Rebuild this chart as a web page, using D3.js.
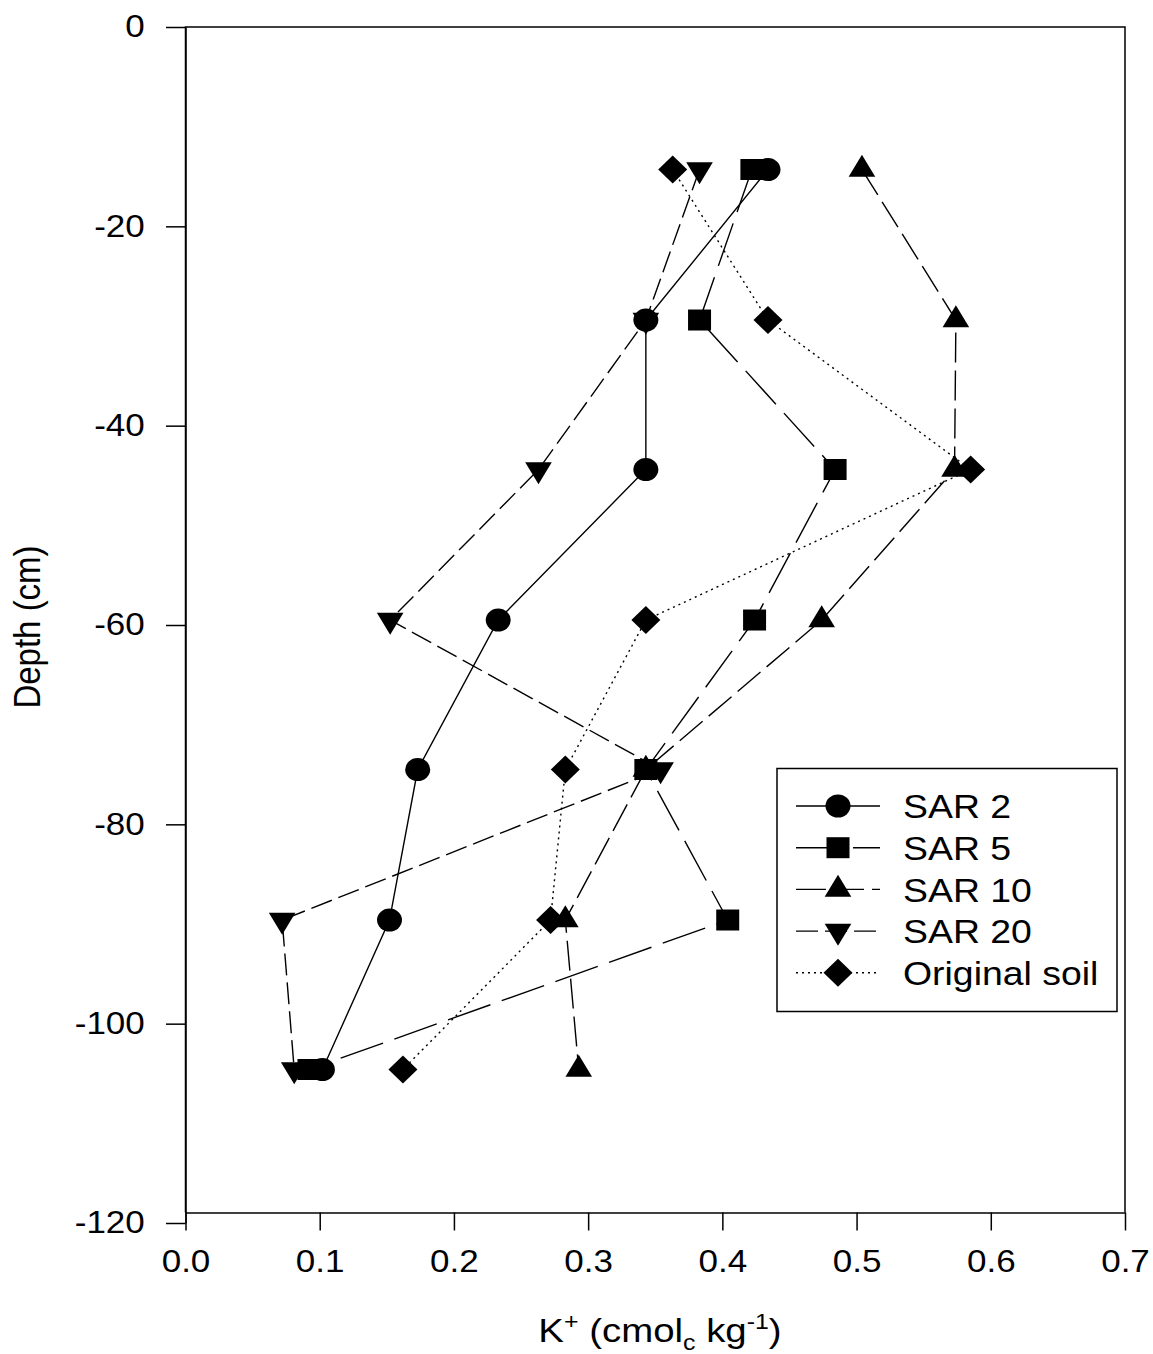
<!DOCTYPE html>
<html>
<head>
<meta charset="utf-8">
<script src="https://cdn.jsdelivr.net/npm/d3@7"></script>
<style>
  html, body { margin: 0; padding: 0; background: #fff; }
  svg { display: block; }
  text { font-family: "Liberation Sans", Arial, sans-serif; fill: #000; }
</style>
</head>
<body>
<svg id="chart" width="1153" height="1354"></svg>
<script>
// Soil depth (cm) of each sampled layer
const depths = [-14.3, -29.4, -44.4, -59.5, -74.5, -89.6, -104.6];

// Exchangeable K+ (cmolc/kg) per layer for each treatment
const sar2     = [0.434, 0.343, 0.343, 0.233, 0.173, 0.152, 0.102];
const sar5     = [0.422, 0.383, 0.484, 0.424, 0.343, 0.404, 0.092];
const sar10    = [0.504, 0.574, 0.573, 0.474, 0.343, 0.283, 0.293];
const sar20    = [0.383, 0.343, 0.263, 0.1525, 0.354, 0.072, 0.081];
const original = [0.363, 0.434, 0.585, 0.343, 0.283, 0.272, 0.162];

const seriesNames = ["SAR 2", "SAR 5", "SAR 10", "SAR 20", "Original soil"];

// Axis tick values
const xTicks = [0.0, 0.1, 0.2, 0.3, 0.4, 0.5, 0.6, 0.7];
const yTicks = [0, -20, -40, -60, -80, -100, -120];

(function () {
  const TEXT_STRETCH = 1.13;
  const LEGEND_STRETCH = 1.1;
  const svg = d3.select("#chart");

  const plotLeft = 185.5, plotRight = 1125, plotTop = 27, xAxisY = 1212.5, yBottom = 1223;
  const x = d3.scaleLinear().domain([0, 0.7]).range([plotLeft, plotRight]);
  const y = d3.scaleLinear().domain([-120, 0]).range([yBottom, plotTop]);

  // Marker shapes (centred on the data point)
  const squareSym = { draw(p) { p.moveTo(-11.5, -10.5); p.lineTo(11.5, -10.5); p.lineTo(11.5, 10.5); p.lineTo(-11.5, 10.5); p.closePath(); } };
  const triUpSym = { draw(p) { p.moveTo(0, -14.7); p.lineTo(13.3, 7.3); p.lineTo(-13.3, 7.3); p.closePath(); } };
  const triDownSym = { draw(p) { p.moveTo(0, 14.7); p.lineTo(13.3, -7.3); p.lineTo(-13.3, -7.3); p.closePath(); } };
  const diamondSym = { draw(p) { p.moveTo(0, -14); p.lineTo(14.5, 0); p.lineTo(0, 14); p.lineTo(-14.5, 0); p.closePath(); } };

  const series = [
    { name: seriesNames[0], values: sar2,     dash: null,    shape: "circle" },
    { name: seriesNames[1], values: sar5,     dash: "45,12", shape: squareSym },
    { name: seriesNames[2], values: sar10,    dash: "30,8",  shape: triUpSym },
    { name: seriesNames[3], values: sar20,    dash: "22,7",  shape: triDownSym },
    { name: seriesNames[4], values: original, dash: "2,4",   shape: diamondSym }
  ];

  function drawMarker(g, cx, cy, shape) {
    if (shape === "circle") {
      g.append("ellipse").attr("cx", cx).attr("cy", cy).attr("rx", 12.5).attr("ry", 11.5).attr("fill", "#000");
    } else {
      g.append("path").attr("d", d3.symbol().type(shape)()).attr("transform", `translate(${cx},${cy})`).attr("fill", "#000");
    }
  }

  // Frame
  svg.append("path")
    .attr("d", `M${plotLeft},${xAxisY}V${plotTop}H${plotRight}V${xAxisY}`)
    .attr("fill", "none").attr("stroke", "#000").attr("stroke-width", 1.5);

  // X axis
  const xAxis = svg.append("g")
    .attr("transform", `translate(0,${xAxisY})`)
    .call(d3.axisBottom(x).tickValues(xTicks).tickFormat(d3.format(".1f")).tickSize(18).tickSizeOuter(0).tickPadding(19));
  xAxis.select(".domain").attr("stroke-width", 1.5);
  xAxis.selectAll(".tick line").attr("stroke-width", 1.5);
  xAxis.selectAll(".tick text")
    .attr("font-size", 31).attr("font-family", "Liberation Sans, Arial, sans-serif")
    .attr("transform", `scale(${TEXT_STRETCH},1)`);

  // Y axis (plain hyphen for negative labels)
  const yAxis = svg.append("g")
    .attr("transform", `translate(${plotLeft},0)`)
    .call(d3.axisLeft(y).tickValues(yTicks).tickFormat(d => String(d)).tickSize(19.5).tickSizeOuter(0).tickPadding(16.5));
  yAxis.select(".domain").attr("stroke-width", 1.5);
  yAxis.selectAll(".tick line").attr("stroke-width", 1.5);
  yAxis.selectAll(".tick text")
    .attr("font-size", 31).attr("font-family", "Liberation Sans, Arial, sans-serif")
    .attr("transform", `scale(${TEXT_STRETCH},1)`);

  // Series lines and markers
  const line = d3.line().x(d => x(d[0])).y(d => y(d[1]));
  const plot = svg.append("g");
  series.forEach(s => {
    const pts = s.values.map((v, i) => [v, depths[i]]);
    plot.append("path")
      .attr("d", line(pts))
      .attr("fill", "none").attr("stroke", "#000").attr("stroke-width", 1.4)
      .attr("stroke-dasharray", s.dash);
  });
  series.forEach(s => {
    const g = plot.append("g");
    s.values.forEach((v, i) => drawMarker(g, x(v), y(depths[i]), s.shape));
  });

  // Legend
  const legend = svg.append("g");
  legend.append("rect")
    .attr("x", 777).attr("y", 768.5).attr("width", 340).attr("height", 243)
    .attr("fill", "#fff").attr("stroke", "#000").attr("stroke-width", 1.5);
  series.forEach((s, i) => {
    const ly = 806 + i * 41.7;
    legend.append("line")
      .attr("x1", 796).attr("x2", 880).attr("y1", ly).attr("y2", ly)
      .attr("stroke", "#000").attr("stroke-width", 1.4).attr("stroke-dasharray", s.dash);
    drawMarker(legend, 838, ly, s.shape);
    legend.append("text")
      .attr("transform", `translate(903,${ly}) scale(${LEGEND_STRETCH},1)`)
      .attr("dy", "0.36em").attr("font-size", 34)
      .text(s.name);
  });

  // Axis titles
  const xt = svg.append("text")
    .attr("transform", `translate(660,1342) scale(${TEXT_STRETCH},1)`)
    .attr("text-anchor", "middle").attr("font-size", 34);
  xt.append("tspan").text("K");
  xt.append("tspan").attr("font-size", 22).attr("dy", -13).text("+");
  xt.append("tspan").attr("dy", 13).text(" (cmol");
  xt.append("tspan").attr("font-size", 22).attr("dy", 8).text("c");
  xt.append("tspan").attr("dy", -8).text(" kg");
  xt.append("tspan").attr("font-size", 22).attr("dy", -13).text("-1");
  xt.append("tspan").attr("dy", 13).text(")");

  svg.append("text")
    .attr("transform", `translate(40,627) rotate(-90) scale(1,${TEXT_STRETCH})`)
    .attr("text-anchor", "middle").attr("font-size", 33)
    .text("Depth (cm)");
})();
</script>
</body>
</html>
